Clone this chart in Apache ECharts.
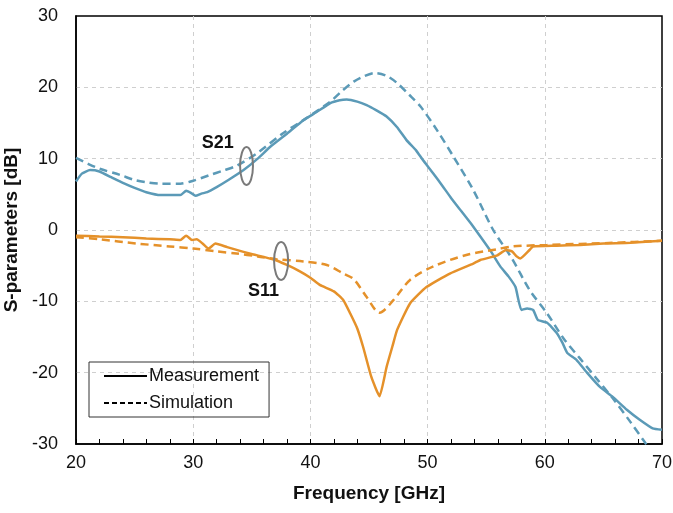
<!DOCTYPE html>
<html><head><meta charset="utf-8">
<script src="https://cdn.jsdelivr.net/npm/echarts@6/dist/echarts.min.js"></script>
<style>html,body{margin:0;padding:0;background:#fff}#c{width:673px;height:513px}</style>
</head><body><div id="c"></div>
<script>
// ---- data (frequency in GHz, value in dB) ----
const s21MeasFreq = [20,20.5,21.2,22,23,24,25,26,27.2,28.9,29.4,29.8,30.2,30.7,31.2,32,33,34.3,35.5,36.6,38,39.4,40.5,41.7,42.5,43.1,44,44.8,45.6,46.5,47.4,48.2,49,49.6,50.5,51.3,52,52.8,53.7,54.5,55.4,56.2,56.9,57.5,58,58.5,59,59.4,60.2,61,61.5,61.9,62.7,63.6,64.7,65.8,67,68.1,69.2,70];
const s21MeasVal  = [6.8,7.9,8.4,8.2,7.4,6.6,5.9,5.3,4.9,4.9,5.5,5.2,4.8,5.1,5.3,6.0,7.0,8.4,10.0,11.7,13.5,15.4,16.5,17.8,18.2,18.3,18.0,17.5,16.8,15.9,14.4,12.6,11.2,9.8,7.9,6.1,4.5,2.8,0.9,-0.9,-3.0,-5.1,-6.5,-8.0,-11.2,-11.0,-11.2,-12.6,-13.0,-14.4,-15.8,-17.2,-18.2,-20.0,-22.0,-23.4,-25.2,-26.6,-27.8,-28.0];

const s21SimFreq = [20,21,22,23.8,25,26,27.2,28.9,30,31.4,32.5,33.7,35.4,37.7,39.4,41.7,42.7,43.7,44.5,45.5,46.5,47.4,48.4,49.4,50.8,52.2,53.9,55.6,57.2,58.7,60.2,61.6,63,64.4,65.8,67.3,68.6,69.2];
const s21SimVal  = [10.1,9.3,8.6,7.7,7.0,6.7,6.5,6.5,6.9,7.7,8.3,9.0,10.7,13.6,15.4,18.0,19.5,20.8,21.5,22.0,21.6,20.6,19.0,17.3,14.0,10.3,5.6,0.0,-4.0,-8.4,-11.7,-15.2,-18.0,-20.8,-23.6,-26.9,-29.9,-31.2];

const s11MeasFreq = [20,22,24,26,28,28.9,29.4,29.9,30.3,30.8,31.3,31.9,32.9,34.8,36.8,38,39.1,40,40.8,42,42.8,43.4,44,44.5,45.2,45.9,46.5,47,47.4,48.5,49.9,51.9,53.9,54.5,55.9,56.7,57.2,57.6,57.9,58.7,59,61,63,65,67.3,70];
const s11MeasVal  = [-0.8,-0.9,-1.0,-1.2,-1.3,-1.4,-0.8,-1.4,-1.3,-1.9,-2.6,-1.9,-2.4,-3.3,-4.1,-4.9,-5.8,-6.7,-7.7,-8.6,-9.8,-11.7,-13.8,-16.4,-20.6,-23.3,-19.2,-16.3,-14.0,-10.3,-8.0,-6.1,-4.7,-4.2,-3.6,-2.8,-3.0,-3.7,-4.0,-2.8,-2.3,-2.2,-2.1,-1.9,-1.8,-1.5];

const s11SimFreq = [20,22,25.2,28,30,32,33.7,35.5,37.1,39.4,41.4,42.8,43.7,44.8,45.9,47.1,48.5,50.5,53.3,55.9,57.3,60.2,65.8,70];
const s11SimVal  = [-1.0,-1.3,-1.9,-2.3,-2.6,-3.0,-3.3,-3.7,-4.1,-4.4,-4.9,-6.1,-6.9,-9.4,-11.6,-9.8,-7.0,-5.1,-3.5,-2.7,-2.3,-2.1,-1.8,-1.5];

const xTicks = [20,30,40,50,60,70];
const yTicks = [-30,-20,-10,0,10,20,30];
const legendNames = ['Measurement','Simulation'];
// annotations in data coordinates: [freq, dB]
const s21Ellipse = [34.55, 8.97];
const s11Ellipse = [37.5, -4.35];
const s21Label = [32.1, 12.2];
const s11Label = [36.0, -8.55];

const pair = (f, v) => f.map((x, i) => [x, v[i]]);
const BLUE = '#5b9ab7', ORANGE = '#e5912a';
const FONT = '"Liberation Sans", Arial, sans-serif';
const CLEAR = 'rgba(0,0,0,0)';

const chart = echarts.init(document.getElementById('c'), null, {renderer: 'canvas'});
const option = {
  animation: false,
  backgroundColor: '#fff',
  grid: {left: 76, right: 11, top: 16, bottom: 69, outerBoundsMode: 'none', containLabel: false,
         show: true, borderColor: '#000', borderWidth: 1.5, backgroundColor: 'transparent'},
  legend: {
    data: legendNames, orient: 'vertical', left: 89, top: 362,
    borderColor: '#333', borderWidth: 1, padding: [5, 10, 5, 14],
    itemWidth: 43, itemHeight: 14, itemGap: 9, selectedMode: false,
    itemStyle: {color: CLEAR, borderColor: CLEAR, borderWidth: 0, opacity: 0},
    textStyle: {fontFamily: FONT, fontSize: 18, color: '#111', padding: [0,0,0,-3]}
  },
  xAxis: {
    type: 'value', min: xTicks[0], max: xTicks[xTicks.length-1], interval: 10,
    name: 'Frequency [GHz]', nameLocation: 'middle', nameGap: 40,
    nameTextStyle: {fontFamily: FONT, fontSize: 19, fontWeight: 'bold', color: '#111'},
    axisLine: {onZero: false, lineStyle: {color: '#000', width: 1.5}},
    axisTick: {show: true, inside: true, length: 5, lineStyle: {color: '#000'}},
    minorTick: {show: true, splitNumber: 5, length: 5, lineStyle: {color: '#000'}},
    axisLabel: {fontFamily: FONT, fontSize: 18, color: '#111', margin: 10},
    splitLine: {show: true, showMinLine: false, showMaxLine: false, lineStyle: {color: '#cfcfcf', type: [4, 4], width: 1}}
  },
  yAxis: {
    type: 'value', min: yTicks[0], max: yTicks[yTicks.length-1], interval: 10,
    name: 'S-parameters [dB]', nameLocation: 'middle', nameGap: 48,
    nameTextStyle: {fontFamily: FONT, fontSize: 19, fontWeight: 'bold', color: '#111'},
    axisLine: {show: true, onZero: false, lineStyle: {color: '#000', width: 1.5}},
    axisTick: {show: false},
    axisLabel: {fontFamily: FONT, fontSize: 18, color: '#111', margin: 18},
    splitLine: {show: true, showMinLine: false, showMaxLine: false, lineStyle: {color: '#cfcfcf', type: [4, 4], width: 1}}
  },
  series: [
    {name: 'S21 sim', type: 'line', data: pair(s21SimFreq, s21SimVal), symbol: 'none', smooth: 0.3, clip: true,
     lineStyle: {color: BLUE, width: 2.5, type: [8, 5]}},
    {name: 'S21 meas', type: 'line', data: pair(s21MeasFreq, s21MeasVal), symbol: 'none', smooth: 0.15, clip: true,
     lineStyle: {color: BLUE, width: 2.5}},
    {name: 'S11 sim', type: 'line', data: pair(s11SimFreq, s11SimVal), symbol: 'none', smooth: 0.3, clip: true,
     lineStyle: {color: ORANGE, width: 2.5, type: [8, 5]}},
    {name: 'S11 meas', type: 'line', data: pair(s11MeasFreq, s11MeasVal), symbol: 'none', smooth: 0.15, clip: true,
     lineStyle: {color: ORANGE, width: 2.5}},
    {name: legendNames[0], type: 'line', data: [], symbol: 'none', itemStyle: {color: CLEAR}, lineStyle: {color: '#000', width: 2.5}},
    {name: legendNames[1], type: 'line', data: [], symbol: 'none', itemStyle: {color: CLEAR}, lineStyle: {color: '#000', width: 2.5, type: [5, 3]}}
  ]
};
chart.setOption(option);

function ellipseAt(c, dx, dy) {
  const p = chart.convertToPixel({gridIndex: 0}, c);
  const q = chart.convertToPixel({gridIndex: 0}, [c[0] + dx, c[1] + dy]);
  return {type: 'ellipse', shape: {cx: p[0], cy: p[1], rx: Math.abs(q[0]-p[0]), ry: Math.abs(q[1]-p[1])},
          style: {fill: 'none', stroke: '#7a7a7a', lineWidth: 2}, z: 100};
}
function labelAt(c, text) {
  const p = chart.convertToPixel({gridIndex: 0}, c);
  return {type: 'text', x: p[0], y: p[1], z: 100,
          style: {text: text, fill: '#111', font: 'bold 18px ' + FONT, align: 'center', verticalAlign: 'middle'}};
}
chart.setOption({graphic: [
  ellipseAt(s21Ellipse, 0.55, 2.66),
  ellipseAt(s11Ellipse, 0.6, 2.66),
  labelAt(s21Label, 'S21'),
  labelAt(s11Label, 'S11')
]});
</script></body></html>
